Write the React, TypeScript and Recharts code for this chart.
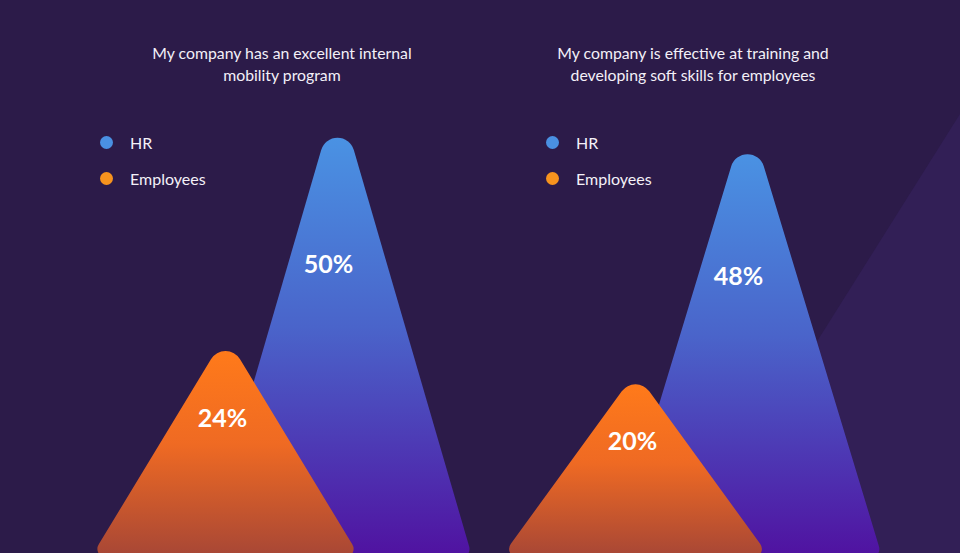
import React from 'react';
import { BarChart, Bar, XAxis, YAxis, Legend, LabelList } from 'recharts';

// ---- data ----
const categories = ['HR', 'Employees'];
const panelTitles = [
  ['My company has an excellent internal', 'mobility program'],
  ['My company is effective at training and', 'developing soft skills for employees'],
];
const panel1Values = [50, 24];
const panel2Values = [48, 20];
const valueDomain = [0, 50];

// ---- styles ----
const FONT = 'Lato, "Open Sans", sans-serif';
const BG = '#2c1b49';
const BG_LIGHT = '#321f56';
const legendColors: Record<string, string> = { HR: '#4a90e2', Employees: '#f7931e' };
const gradStops: Record<string, [number, string][]> = {
  HR: [
    [0, '#4a92e3'],
    [0.45, '#4a64ca'],
    [1, '#5011a0'],
  ],
  Employees: [
    [0, '#ff7a1a'],
    [0.45, '#ef6a23'],
    [1, '#a64636'],
  ],
};
const labelDx: Record<string, number> = { HR: -9, Employees: -3 };
const HALF_BASE = 135;
const TIP_R = 17;
const BASE_R = 9;

type Pt = [number, number];

function roundedPolygon(pts: Pt[], radii: number[]): string {
  const n = pts.length;
  let d = '';
  for (let i = 0; i < n; i++) {
    const P = pts[i];
    const A = pts[(i - 1 + n) % n];
    const B = pts[(i + 1) % n];
    const v1x = A[0] - P[0], v1y = A[1] - P[1];
    const v2x = B[0] - P[0], v2y = B[1] - P[1];
    const l1 = Math.hypot(v1x, v1y), l2 = Math.hypot(v2x, v2y);
    const u1x = v1x / l1, u1y = v1y / l1, u2x = v2x / l2, u2y = v2y / l2;
    const ang = Math.acos(Math.max(-1, Math.min(1, u1x * u2x + u1y * u2y)));
    const r = radii[i];
    let t = r / Math.tan(ang / 2);
    t = Math.min(t, l1 * 0.45, l2 * 0.45);
    const rr = t * Math.tan(ang / 2);
    const sx = P[0] + u1x * t, sy = P[1] + u1y * t;
    const ex = P[0] + u2x * t, ey = P[1] + u2y * t;
    d += (i === 0 ? 'M' : 'L') + sx.toFixed(2) + ',' + sy.toFixed(2);
    d += `A${rr.toFixed(2)},${rr.toFixed(2)} 0 0 1 ${ex.toFixed(2)},${ey.toFixed(2)}`;
  }
  return d + 'Z';
}

const makePeak = (panelId: string) => (props: any) => {
  const { x, y, width, height, index } = props;
  const name = props?.payload?.name ?? categories[index];
  if (height == null || height <= 0) return null;
  const cx = x + width / 2;
  const base = y + height;
  const pts: Pt[] = [
    [cx, y],
    [cx + HALF_BASE, base],
    [cx - HALF_BASE, base],
  ];
  const d = roundedPolygon(pts, [TIP_R, BASE_R, BASE_R]);
  return <path d={d} fill={`url(#grad-${panelId}-${name})`} stroke="none" />;
};

const makeLabel = (values: number[]) => (props: any) => {
  const { x, y, width, height, index } = props;
  const name = categories[index];
  const cx = x + width / 2 + (labelDx[name] ?? 0);
  const cy = y + height * 0.365;
  return (
    <text
      x={cx}
      y={cy}
      textAnchor="middle"
      dominantBaseline="central"
      fill="#ffffff"
      fontFamily={FONT}
      fontWeight={700}
      fontSize={25}
    >
      {`${values[index]}%`}
    </text>
  );
};

const LegendBox = () => (
  <div style={{ fontFamily: FONT }}>
    {categories.map((c) => (
      <div key={c} style={{ display: 'flex', alignItems: 'center', height: 36 }}>
        <span
          style={{
            display: 'inline-block',
            width: 13,
            height: 13,
            borderRadius: '50%',
            background: legendColors[c],
            marginRight: 17,
          }}
        />
        <span style={{ color: '#f4f1f8', fontSize: 16 }}>{c}</span>
      </div>
    ))}
  </div>
);

function Panel({
  panelId,
  values,
  left,
  legendLeft,
}: {
  panelId: string;
  values: number[];
  left: number;
  legendLeft: number;
}) {
  const data = categories.map((name, i) => ({ name, value: values[i] }));
  return (
    <div style={{ position: 'absolute', left, top: 0 }}>
      <BarChart
        width={480}
        height={560}
        data={data}
        margin={{ top: 94, right: 7, bottom: 2, left: 90 }}
        barSize={10}
      >
        <defs>
          {categories.map((c) => (
            <linearGradient key={c} id={`grad-${panelId}-${c}`} x1="0" y1="0" x2="0" y2="1">
              {gradStops[c].map(([o, col]) => (
                <stop key={o} offset={o} stopColor={col} />
              ))}
            </linearGradient>
          ))}
        </defs>
        <XAxis
          dataKey="name"
          type="category"
          reversed
          height={0}
          tick={false}
          tickLine={false}
          axisLine={false}
          padding={{ left: 79.5, right: 79.5 }}
        />
        <YAxis hide domain={valueDomain} />
        <Legend
          layout="vertical"
          align="center"
          verticalAlign="middle"
          content={() => <LegendBox />}
          wrapperStyle={{ left: legendLeft, top: 124, width: 'auto', height: 'auto' }}
        />
        <Bar dataKey="value" shape={makePeak(panelId)} isAnimationActive={false}>
          <LabelList dataKey="value" content={makeLabel(values)} />
        </Bar>
      </BarChart>
    </div>
  );
}

export default function App() {
  const titleStyle = (center: number): React.CSSProperties => ({
    position: 'absolute',
    left: center - 220,
    width: 440,
    top: 42,
    textAlign: 'center',
    color: '#f3f0f8',
    fontFamily: FONT,
    fontSize: 15.8,
    lineHeight: '22px',
  });
  return (
    <div
      style={{
        position: 'absolute',
        left: 0,
        top: 0,
        width: 960,
        height: 553,
        overflow: 'hidden',
        background: BG,
      }}
    >
      <div
        style={{
          position: 'absolute',
          left: 0,
          top: 0,
          width: 960,
          height: 553,
          background: BG_LIGHT,
          clipPath: 'polygon(960px 114px, 684px 553px, 960px 553px)',
        }}
      />
      <Panel panelId="p1" values={panel1Values} left={0} legendLeft={100} />
      <Panel panelId="p2" values={panel2Values} left={410} legendLeft={136} />
      <div style={titleStyle(282)}>
        {panelTitles[0][0]}
        <br />
        {panelTitles[0][1]}
      </div>
      <div style={titleStyle(693)}>
        {panelTitles[1][0]}
        <br />
        {panelTitles[1][1]}
      </div>
    </div>
  );
}
